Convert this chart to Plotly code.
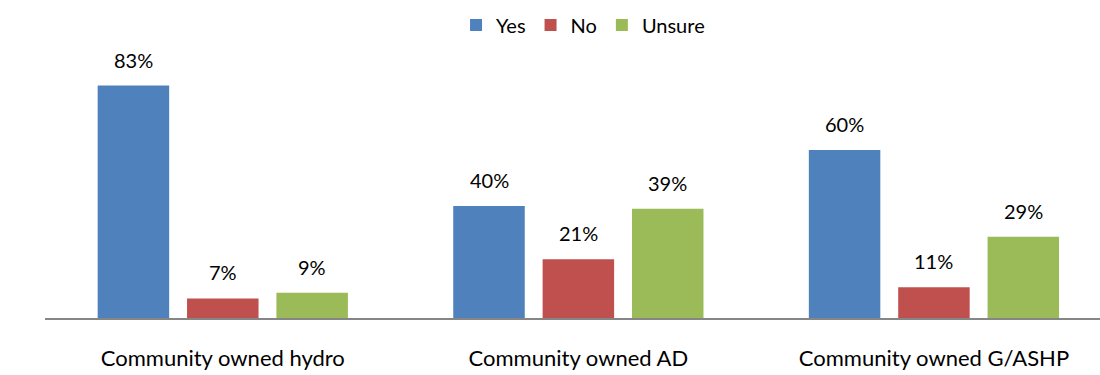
import plotly.graph_objects as go

categories = ["Community owned hydro", "Community owned AD", "Community owned G/ASHP"]
yes_pct = [83, 40, 60]
no_pct = [7, 21, 11]
unsure_pct = [9, 39, 29]

series = [
    ("Yes", yes_pct, "#4F81BD"),
    ("No", no_pct, "#C0504D"),
    ("Unsure", unsure_pct, "#9BBB59"),
]

FONT = "Lato"
BARGAP = 0.246
BARGROUPGAP = 0.2

fig = go.Figure()
for name, vals, color in series:
    fig.add_trace(go.Bar(
        name=name,
        x=categories,
        y=vals,
        marker=dict(color=color, line=dict(width=0)),
        hoverinfo="x+y+name",
    ))

# value labels above each bar, placed at the bar centres of the grouped layout
slot = (1 - BARGAP) / len(series)
for i, (name, vals, color) in enumerate(series):
    offset = (i - (len(series) - 1) / 2) * slot
    for j, v in enumerate(vals):
        fig.add_annotation(
            x=j + offset, y=v, xref="x", yref="y",
            text=f"{v}%",
            showarrow=False,
            yanchor="bottom",
            yshift=12,
            font=dict(family=FONT, size=20, color="#000000"),
        )

fig.update_layout(
    width=1100,
    height=375,
    margin=dict(l=45, r=0, t=66, b=57),
    paper_bgcolor="white",
    plot_bgcolor="white",
    barmode="group",
    bargap=BARGAP,
    bargroupgap=BARGROUPGAP,
    showlegend=True,
    legend=dict(
        orientation="h",
        x=0.51, xanchor="center",
        y=1.163, yanchor="middle",
        font=dict(family=FONT, size=20, color="#000000"),
        itemwidth=30,
        traceorder="normal",
    ),
    xaxis=dict(
        range=[-0.5, 2.467],
        showline=True,
        linecolor="#868686",
        linewidth=2,
        ticks="",
        tickfont=dict(family=FONT, size=22, color="#000000"),
        ticklabelstandoff=20,
        showgrid=False,
    ),
    yaxis=dict(
        range=[0, 90],
        visible=False,
        showgrid=False,
        zeroline=False,
    ),
)

fig.write_html("out.html")
